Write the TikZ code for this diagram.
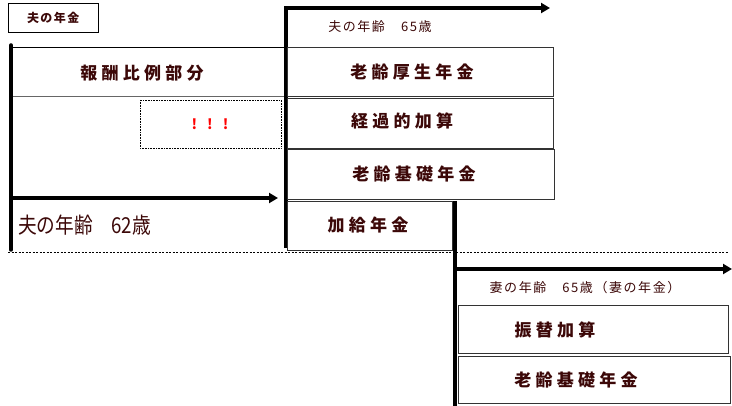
\documentclass[tikz,border=0pt]{standalone}
\usepackage{fontspec}
\newfontfamily\cjk{Noto Sans CJK JP}
\newfontfamily\cjkw[LetterSpace=25]{Noto Sans CJK JP}
\newfontfamily\cjks[LetterSpace=12]{Noto Sans CJK JP}
\usetikzlibrary{arrows.meta}
\definecolor{tx}{HTML}{3C0808}
\tikzset{
  lbl/.style={text=tx,font=\cjkw\bfseries\fontsize{17}{17}\selectfont},
  sm/.style={text=tx,font=\cjks\fontsize{13}{13}\selectfont},
  bx/.style={draw=black!80,line width=0.6pt},
  thick line/.style={line width=3.5pt},
  arr/.style={line width=3.5pt,-{Triangle[length=9pt,width=10pt]}},
}
\begin{document}
\begin{tikzpicture}[x=1pt,y=-1pt]
\useasboundingbox (0,0) rectangle (732,406);
\node[draw,minimum width=90pt,minimum height=29pt,anchor=north west,text=tx,font=\cjks\bfseries\fontsize{12}{12}\selectfont] (t) at (8,3) {夫の年金};
% left part
\coordinate (r1a) at (11,47); \coordinate (r1b) at (285,47);
\coordinate (r2a) at (11,96); \coordinate (r2b) at (285,96);
\draw[line width=0.6pt] (r1a) -- (r1b);
\draw[line width=0.6pt,black!60] (r2a) -- (r2b);
\node[lbl] (hr) at (142,73) {報酬比例部分};
\draw[densely dotted,line width=0.6pt] (140,100) rectangle (281,148);
\node[text=red,font=\cjk\bfseries\fontsize{14}{14}\selectfont] (ex) at (210,124) {!\hspace{10pt}!\hspace{10pt}!};
\coordinate (la) at (11,45); \coordinate (lb) at (11,250);
\draw[thick line,line cap=round] (la) -- (lb);
\coordinate (a1s) at (11,198); \coordinate (a1e) at (278,198);
\draw[arr] (a1s) -- (a1e);
\node[text=tx,font=\cjk\fontsize{22}{22}\selectfont,anchor=west,xscale=0.85] (age62) at (15,225) {夫の年齢　62歳};
\coordinate (d1) at (8,252); \coordinate (d2) at (728,252);
\draw[dashed,line width=0.7pt,dash pattern=on 2pt off 1.5pt] (d1) -- (d2);
% middle
\coordinate (ma) at (286,248); \coordinate (mb) at (286,8); \coordinate (mc) at (550,8);
\draw[arr] (ma) -- (mb) -- (mc);
\node[sm] (age65) at (380,27) {夫の年齢　65歳};
\node[bx,minimum width=266pt,minimum height=49pt,anchor=north west] (b1) at (287,47) {};
\node[lbl] at (412,72) {老齢厚生年金};
\node[bx,minimum width=266pt,minimum height=50pt,anchor=north west] (b2) at (287,98) {};
\node[lbl] at (402,121) {経過的加算};
\node[bx,minimum width=267pt,minimum height=50pt,anchor=north west] (b3) at (287,149) {};
\node[lbl] at (414,174) {老齢基礎年金};
\node[bx,minimum width=165pt,minimum height=49pt,anchor=north west] (b4) at (287,201) {};
\node[lbl] at (368,225) {加給年金};
% right
\coordinate (ra) at (455,201); \coordinate (rb) at (455,406);
\draw[thick line] (ra) -- (rb);
\coordinate (a2s) at (455,269); \coordinate (a2e) at (732,269);
\draw[arr] (a2s) -- (a2e);
\node[sm] (wage) at (585,288) {妻の年齢　65歳（妻の年金）};
\node[bx,minimum width=270pt,minimum height=48pt,anchor=north west] (b5) at (458,305) {};
\node[lbl] at (555,330) {振替加算};
\node[bx,minimum width=272pt,minimum height=47pt,anchor=north west] (b6) at (458,356) {};
\node[lbl] at (576,380) {老齢基礎年金};
\end{tikzpicture}
\end{document}
